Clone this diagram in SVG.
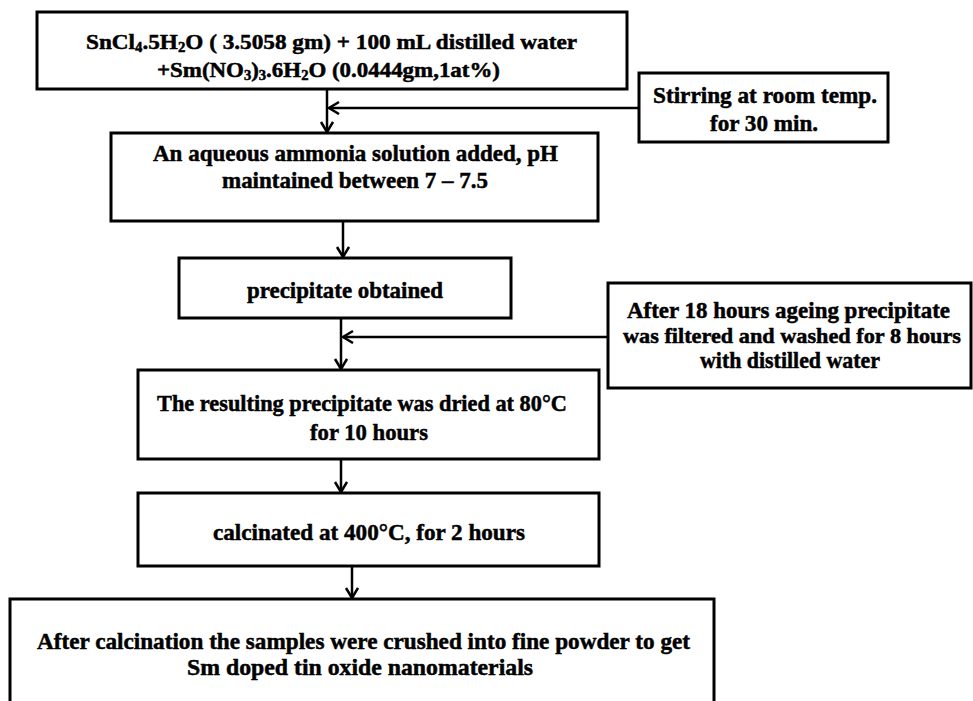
<svg xmlns="http://www.w3.org/2000/svg" width="973" height="701" viewBox="0 0 973 701">
<style>
.box{fill:#fff;stroke:#000;stroke-width:3}
.t{font-family:"Liberation Serif","Times New Roman",serif;font-weight:700;font-size:24px;fill:#000;stroke:#000;stroke-width:0.5}
.s{font-size:22px}
.c{stroke:#000;stroke-width:2.5;fill:none}
.sub{font-size:14px}
</style>
<defs>
<marker id="ah" markerUnits="userSpaceOnUse" markerWidth="14" markerHeight="16" refX="11" refY="7" orient="auto">
<path d="M1,1 L11,7 L1,13" fill="none" stroke="#000" stroke-width="2.5"/>
</marker>
</defs>
<rect width="973" height="701" fill="#fff"/>
<g id="connectors">
<line class="c" x1="327" y1="89" x2="327" y2="132" marker-end="url(#ah)"/>
<line class="c" x1="638" y1="108" x2="329" y2="108" marker-end="url(#ah)"/>
<line class="c" x1="343" y1="221" x2="343" y2="257" marker-end="url(#ah)"/>
<line class="c" x1="341" y1="318" x2="341" y2="369" marker-end="url(#ah)"/>
<line class="c" x1="608" y1="337" x2="343" y2="337" marker-end="url(#ah)"/>
<line class="c" x1="341" y1="459" x2="341" y2="492" marker-end="url(#ah)"/>
<line class="c" x1="352" y1="566" x2="352" y2="598" marker-end="url(#ah)"/>
</g>
<g id="n1">
<rect class="box" x="37" y="12" width="590" height="77"/>
<text class="t s" x="86" y="49" textLength="491" lengthAdjust="spacingAndGlyphs">SnCl<tspan class="sub" dy="3">4</tspan><tspan dy="-3">.5H</tspan><tspan class="sub" dy="3">2</tspan><tspan dy="-3">O ( 3.5058 gm) + 100 mL distilled water</tspan></text>
<text class="t s" x="157" y="77" textLength="343" lengthAdjust="spacingAndGlyphs">+Sm(NO<tspan class="sub" dy="3">3</tspan><tspan dy="-3">)</tspan><tspan class="sub" dy="3">3</tspan><tspan dy="-3">.6H</tspan><tspan class="sub" dy="3">2</tspan><tspan dy="-3">O (0.0444gm,1at%)</tspan></text>
</g>
<g id="n2">
<rect class="box" x="639" y="73" width="249" height="69"/>
<text class="t" x="765" y="103" text-anchor="middle" textLength="224" lengthAdjust="spacingAndGlyphs">Stirring at room temp.</text>
<text class="t" x="764" y="131" text-anchor="middle" textLength="108" lengthAdjust="spacingAndGlyphs">for 30 min.</text>
</g>
<g id="n3">
<rect class="box" x="111" y="133" width="487" height="88"/>
<text class="t" x="153" y="161" textLength="405" lengthAdjust="spacingAndGlyphs">An aqueous ammonia solution added, pH</text>
<text class="t" x="222" y="188" textLength="266" lengthAdjust="spacingAndGlyphs">maintained between 7 – 7.5</text>
</g>
<g id="n4">
<rect class="box" x="179" y="258" width="332" height="60"/>
<text class="t" x="247" y="298" textLength="196" lengthAdjust="spacingAndGlyphs">precipitate obtained</text>
</g>
<g id="n5">
<rect class="box" x="608" y="283" width="363" height="105"/>
<text class="t" x="627" y="318" textLength="323" lengthAdjust="spacingAndGlyphs">After 18 hours ageing precipitate</text>
<text class="t s" x="623" y="343" textLength="338" lengthAdjust="spacingAndGlyphs">was filtered and washed for 8 hours</text>
<text class="t" x="790" y="368" text-anchor="middle" textLength="180" lengthAdjust="spacingAndGlyphs">with distilled water</text>
</g>
<g id="n6">
<rect class="box" x="138" y="370" width="461" height="89"/>
<text class="t" x="157" y="411" textLength="410" lengthAdjust="spacingAndGlyphs">The resulting precipitate was dried at 80°C</text>
<text class="t" x="310" y="440" textLength="118" lengthAdjust="spacingAndGlyphs">for 10 hours</text>
</g>
<g id="n7">
<rect class="box" x="138" y="493" width="461" height="73"/>
<text class="t" x="213" y="540" textLength="312" lengthAdjust="spacingAndGlyphs">calcinated at 400°C, for 2 hours</text>
</g>
<g id="n8">
<rect class="box" x="10" y="599" width="704" height="110"/>
<text class="t" x="37" y="649" textLength="653" lengthAdjust="spacingAndGlyphs">After calcination the samples were crushed into fine powder to get</text>
<text class="t" x="187" y="675" textLength="346" lengthAdjust="spacingAndGlyphs">Sm doped tin oxide nanomaterials</text>
</g>
</svg>
